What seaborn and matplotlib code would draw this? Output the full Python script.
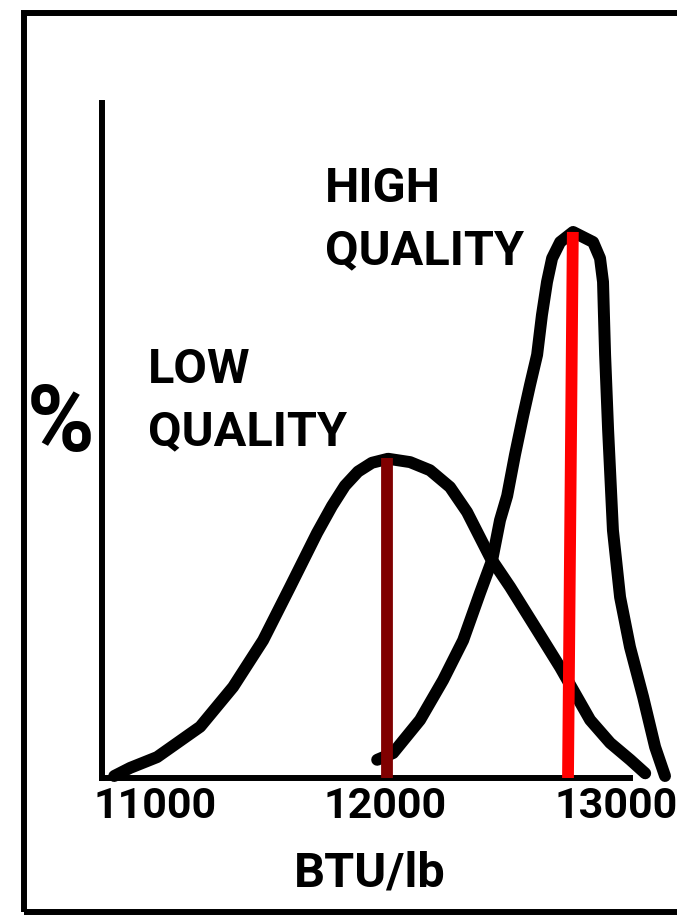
import matplotlib
matplotlib.use("Agg")
import matplotlib.pyplot as plt
import seaborn as sns
import pandas as pd
from matplotlib.patches import Rectangle

# curves (BTU/lb, relative %)
low_btu = [10823, 10892, 11009, 11196, 11339, 11469, 11586, 11703, 11768, 11824,
           11881, 11941, 12011, 12107, 12193, 12280, 12354, 12454, 12541, 12658,
           12758, 12888, 12975, 13062, 13127]
low_pct = [0.3, 1.5, 3.1, 7.6, 13.5, 20.4, 28.3, 36.3, 40.3, 43.3,
           45.4, 46.7, 47.3, 46.8, 45.6, 43.1, 39.4, 32.7, 28.3, 21.9,
           16.4, 8.6, 5.2, 2.7, 0.7]

high_btu = [11964, 12033, 12150, 12250, 12337, 12410, 12463, 12497, 12528, 12562,
            12597, 12627, 12658, 12679, 12701, 12723, 12758, 12814, 12901, 12931,
            12944, 12948, 12953, 12966, 12987, 13018, 13061, 13118, 13170, 13213]
high_pct = [2.7, 3.7, 8.6, 14.5, 20.4, 27.4, 32.3, 38.2, 41.8, 47.9,
            53.6, 58.2, 62.7, 68.6, 73.5, 77.0, 79.4, 80.9, 79.4, 77.0,
            73.5, 68.6, 62.7, 51.6, 36.7, 26.8, 19.4, 12.0, 4.6, 0.3]

# peak markers
low_mark_btu = [12006, 12006]
low_mark_pct = [0, 47.4]
high_mark_btu = [12792, 12813]
high_mark_pct = [0, 80.9]

tick_values = [11000, 12000, 13000]
tick_labels = ["11000", "12000", "13000"]

sns.set_style("white")
plt.rcParams["font.family"] = ["Liberation Sans Narrow", "Roboto", "DejaVu Sans"]
plt.rcParams["text.color"] = "black"
plt.rcParams["xtick.color"] = "black"
plt.rcParams["axes.labelcolor"] = "black"

fig = plt.figure(figsize=(6.77, 9.15), dpi=100)
ax = fig.add_axes([0.1507, 0.1497, 0.8493, 0.7377])

low = pd.DataFrame({"btu": low_btu, "pct": low_pct})
high = pd.DataFrame({"btu": high_btu, "pct": high_pct})
for d in (low, high):
    sns.lineplot(data=d, x="btu", y="pct", color="black", lw=8.6, estimator=None,
                 sort=False, solid_capstyle="round", solid_joinstyle="round",
                 clip_on=False, ax=ax)

ax.plot(low_mark_btu, low_mark_pct, color="#800000", lw=8.5,
        solid_capstyle="butt", zorder=5)
ax.plot(high_mark_btu, high_mark_pct, color="#ff0000", lw=8.5,
        solid_capstyle="butt", zorder=5)

ax.set_xlim(10770, 13265)
ax.set_ylim(0, 100)

sns.despine(ax=ax)
for s in ("left", "bottom"):
    ax.spines[s].set_linewidth(4.3)
    ax.spines[s].set_color("black")
ax.spines["bottom"].set_bounds(10770, 13061)

ax.set_yticks([])
ax.set_xticks(tick_values)
ax.set_xticklabels(tick_labels, fontsize=31, fontweight="bold")
ax.tick_params(axis="x", length=0, pad=6)
ax.set_xlabel("BTU/lb", fontsize=35, fontweight="bold")
ax.xaxis.set_label_coords(0.466, -0.108)
ax.set_ylabel("")

ax.text(11738, 90.6, "HIGH\nQUALITY", fontsize=35, fontweight="bold",
        va="top", ha="left", linespacing=1.45)
ax.text(10970, 63.9, "LOW\nQUALITY", fontsize=35, fontweight="bold",
        va="top", ha="left", linespacing=1.45)
fig.text(0.089, 0.535, "%", fontsize=66, fontweight="bold", ha="center", va="center")

# scanned page frame
fig.patches.append(Rectangle((0.0355, 0.0033), 1.2, 0.9825, transform=fig.transFigure,
                             fill=False, lw=4.3, edgecolor="black"))

fig.savefig("out.png", dpi=100)
